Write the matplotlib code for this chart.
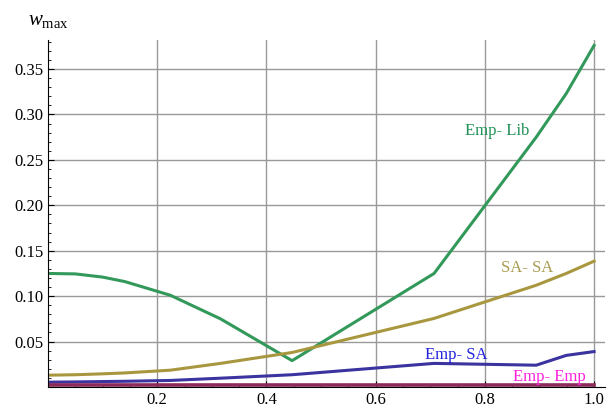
import numpy as np
import matplotlib
matplotlib.use("Agg")
from matplotlib import pyplot as plt
from matplotlib.ticker import MultipleLocator

# x positions of the computed points
x = [0.0, 0.05, 0.1, 0.141, 0.224, 0.316, 0.447, 0.707, 0.894, 0.949, 1.0]

emp_lib = [0.125, 0.1245, 0.121, 0.116, 0.101, 0.075, 0.029, 0.125, 0.275, 0.323, 0.376]
sa_sa   = [0.013, 0.0135, 0.0145, 0.0155, 0.0185, 0.026, 0.038, 0.0755, 0.112, 0.125, 0.1385]
emp_sa  = [0.0053, 0.0056, 0.006, 0.0063, 0.0072, 0.0097, 0.0135, 0.026, 0.024, 0.0348, 0.039]
emp_emp = [0.0022] * len(x)

xticks = [0.2, 0.4, 0.6, 0.8, 1.0]
yticks = [0.05, 0.10, 0.15, 0.20, 0.25, 0.30, 0.35]

plt.rcParams['font.family'] = ['Liberation Serif', 'DejaVu Serif']
plt.rcParams['mathtext.fontset'] = 'custom'
plt.rcParams['mathtext.rm'] = 'Liberation Serif'
plt.rcParams['mathtext.it'] = 'Liberation Serif:italic'

fig = plt.figure(figsize=(6.14, 4.08), dpi=100)
ax = fig.add_axes([48/614, 1-387/408, 557/614, 347/408])

ax.plot(x, emp_lib, color='#33995a', lw=2.2)
ax.plot(x, sa_sa, color='#a8973f', lw=2.2)
ax.plot(x, emp_sa, color='#3b34a0', lw=2.2)
ax.plot(x, emp_emp, color='#8c2a5a', lw=2.6)

ax.text(0.822, 0.282, 'Emp- Lib', color='#1f9055', fontsize=12, ha='center', va='center')
ax.text(0.878, 0.131, 'SA- SA', color='#a89a50', fontsize=12, ha='center', va='center')
ax.text(0.748, 0.035, 'Emp- SA', color='#2222dd', fontsize=12, ha='center', va='center')
ax.text(0.918, 0.0115, 'Emp- Emp', color='#ff22dd', fontsize=12, ha='center', va='center')

ax.set_xlim(0, 1.02)
ax.set_ylim(0, 0.382)
ax.set_xticks(xticks)
ax.set_xticklabels(['%.1f' % v for v in xticks])
ax.set_yticks(yticks)
ax.set_yticklabels(['%.2f' % v for v in yticks])
ax.xaxis.set_minor_locator(MultipleLocator(0.05))
ax.yaxis.set_minor_locator(MultipleLocator(0.01))
ax.tick_params(which='both', direction='in', labelsize=12, color='black')
ax.tick_params(which='major', length=4)
ax.tick_params(which='minor', length=2)
ax.grid(True, which='major', color='#999999', lw=1)
ax.set_axisbelow(True)
for s in ['top', 'right']:
    ax.spines[s].set_visible(False)

fig.text(28/614, 1-20/408, r'$w_{\mathrm{max}}$', fontsize=15, ha='left', va='center')

fig.savefig('out.png', dpi=100)
